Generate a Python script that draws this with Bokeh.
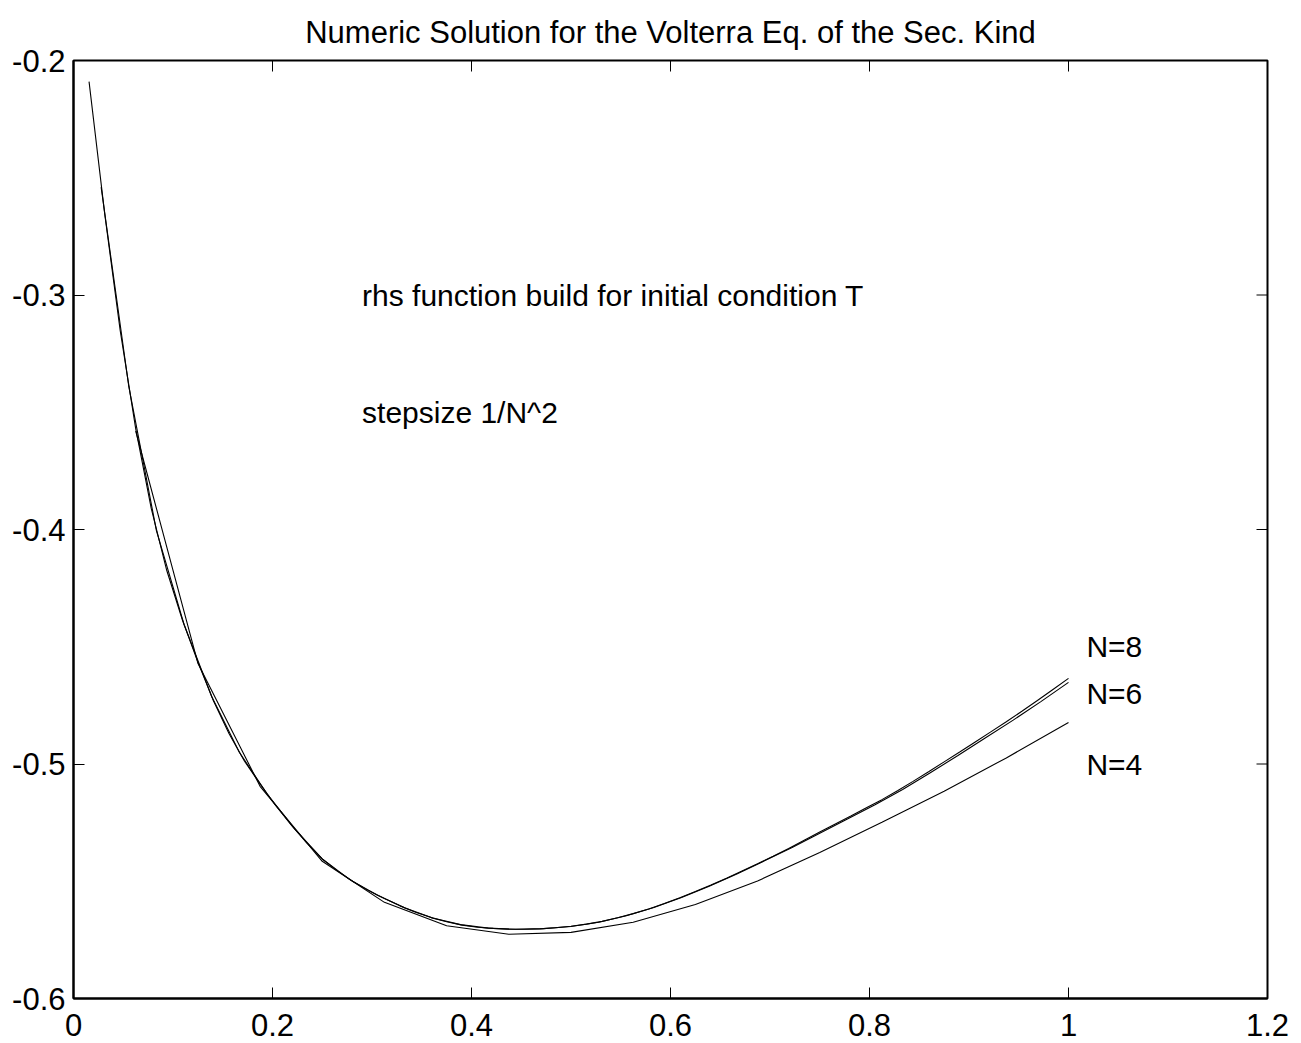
from bokeh.plotting import figure
from bokeh.models import LinearAxis, Range1d, Label, FixedTicker, CustomJSTickFormatter
from bokeh.embed import file_html
from bokeh.resources import INLINE

# ---- data ----
title_text = "Numeric Solution for the Volterra Eq. of the Sec. Kind"
note_lines = ["rhs function build for initial condition T", "stepsize 1/N^2"]
note_y = [-0.30, -0.35]
series_names = ["N=8", "N=6", "N=4"]
series_label_y = [-0.45, -0.47, -0.50]

x_ticks = [0, 0.2, 0.4, 0.6, 0.8, 1.0, 1.2]
y_ticks = [-0.6, -0.5, -0.4, -0.3, -0.2]

# grid points: stepsize 1/N^2
x_n8 = [k / 64 for k in range(1, 65)]
x_n6 = [k / 36 for k in range(1, 37)]
x_n4 = [k / 16 for k in range(1, 17)]

y_n8 = [-0.2090, -0.2650, -0.3150, -0.3570, -0.3910, -0.4175, -0.4385, -0.4565,
        -0.4730, -0.4870, -0.4988, -0.5085, -0.5177, -0.5260, -0.5336, -0.5405,
        -0.5457, -0.5502, -0.5541, -0.5574, -0.5605, -0.5632, -0.5655, -0.5673,
        -0.5687, -0.5696, -0.5701, -0.5704, -0.5705, -0.5703, -0.5698, -0.5692,
        -0.5683, -0.5671, -0.5656, -0.5638, -0.5618, -0.5595, -0.5570, -0.5544,
        -0.5516, -0.5487, -0.5456, -0.5425, -0.5393, -0.5360, -0.5325, -0.5290,
        -0.5256, -0.5222, -0.5187, -0.5152, -0.5114, -0.5074, -0.5033, -0.4991,
        -0.4949, -0.4906, -0.4863, -0.4820, -0.4775, -0.4729, -0.4682, -0.4635]

y_n6 = [-0.2540, -0.3390, -0.4005, -0.4405, -0.4712, -0.4950, -0.5127, -0.5277, -0.5405,
        -0.5493, -0.5560, -0.5614, -0.5657, -0.5685, -0.5700, -0.5705, -0.5702, -0.5693,
        -0.5675, -0.5647, -0.5612, -0.5569, -0.5521, -0.5469, -0.5413, -0.5356, -0.5295,
        -0.5235, -0.5174, -0.5109, -0.5037, -0.4964, -0.4888, -0.4813, -0.4734, -0.4652]

y_n4 = [-0.3580, -0.4570, -0.5095, -0.5415, -0.5590, -0.5690, -0.5726, -0.5718,
        -0.5675, -0.5599, -0.5499, -0.5377, -0.5248, -0.5116, -0.4974, -0.4823]

FONT = "Liberation Sans"
TICK_FS = "31px"
TITLE_FS = "31px"
TEXT_FS = "30px"

X0, X1 = 0, 1.2
Y0, Y1 = -0.6, -0.2

p = figure(width=1301, height=1043, output_backend="svg", toolbar_location=None,
           x_range=Range1d(X0, X1), y_range=Range1d(Y0, Y1),
           x_axis_type=None, y_axis_type=None,
           min_border_left=73, min_border_right=34, min_border_top=60, min_border_bottom=45)
p.background_fill_color = "white"
p.border_fill_color = "white"
p.outline_line_color = "black"
p.outline_line_width = 2

p.title.text = title_text
p.title.align = "center"
p.title.text_font = FONT
p.title.text_font_size = TITLE_FS
p.title.text_font_style = "normal"
p.title.text_color = "black"
p.title.text_line_height = 1.0
p.title.standoff = 22

fmt = CustomJSTickFormatter(code="return String(Math.round(tick*10)/10)")

def make_axis(ticks, standoff):
    ax = LinearAxis(ticker=FixedTicker(ticks=ticks), formatter=fmt)
    ax.major_tick_in = 11
    ax.major_tick_out = 0
    ax.minor_tick_line_color = None
    ax.major_tick_line_color = "black"
    ax.major_tick_line_width = 1
    ax.axis_line_color = "black"
    ax.axis_line_width = 2
    ax.major_label_text_font = FONT
    ax.major_label_text_color = "black"
    ax.major_label_standoff = standoff
    ax.major_label_text_font_size = TICK_FS
    return ax

p.add_layout(make_axis(x_ticks, 15), "below")
p.add_layout(make_axis(y_ticks, 8), "left")

# mirrored inward ticks on the top and right edges of the box
p.ray(x=x_ticks, y=[Y1] * len(x_ticks), length=11, length_units="screen",
      angle=-90, angle_units="deg", line_color="black", line_width=1)
p.ray(x=[X1] * len(y_ticks), y=y_ticks, length=11, length_units="screen",
      angle=180, angle_units="deg", line_color="black", line_width=1)

for xs, ys in [(x_n8, y_n8), (x_n6, y_n6), (x_n4, y_n4)]:
    p.line(xs, ys, line_color="black", line_width=1.1)

for txt, yy in zip(note_lines, note_y):
    p.add_layout(Label(x=0.29, y=yy, text=txt, text_font=FONT, text_font_size=TEXT_FS,
                       text_baseline="middle", text_align="left", text_color="black"))

for txt, yy in zip(series_names, series_label_y):
    p.add_layout(Label(x=1.018, y=yy, text=txt, text_font=FONT, text_font_size=TEXT_FS,
                       text_baseline="middle", text_align="left", text_color="black"))

open("out.html", "w").write(file_html(p, INLINE))
